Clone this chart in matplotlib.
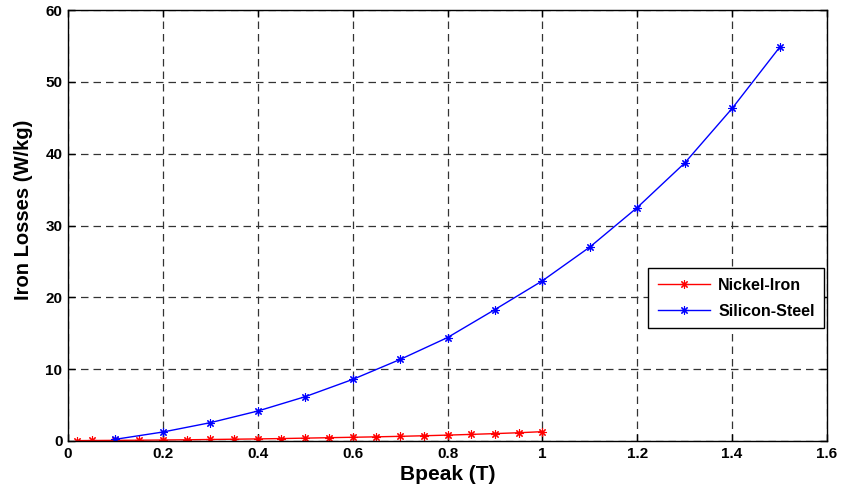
import matplotlib
matplotlib.use("Agg")
import matplotlib.pyplot as plt

plt.rcParams['font.family'] = ['Liberation Sans', 'DejaVu Sans']
plt.rcParams['font.weight'] = 'bold'

# Nickel-Iron losses, measured every 0.05 T
b_ni = [0.02, 0.05, 0.10, 0.15, 0.20, 0.25, 0.30, 0.35, 0.40, 0.45, 0.50,
        0.55, 0.60, 0.65, 0.70, 0.75, 0.80, 0.85, 0.90, 0.95, 1.00]
p_ni = [0.05, 0.07, 0.09, 0.11, 0.14, 0.17, 0.21, 0.25, 0.29, 0.34, 0.40,
        0.46, 0.52, 0.58, 0.65, 0.73, 0.82, 0.92, 1.03, 1.15, 1.30]

# Silicon-Steel losses, measured every 0.1 T
b_si = [0.1, 0.2, 0.3, 0.4, 0.5, 0.6, 0.7, 0.8, 0.9, 1.0, 1.1, 1.2, 1.3, 1.4, 1.5]
p_si = [0.24, 1.25, 2.55, 4.17, 6.17, 8.57, 11.35, 14.4, 18.3, 22.3,
        27.0, 32.5, 38.7, 46.3, 54.8]

xticks = [0, 0.2, 0.4, 0.6, 0.8, 1, 1.2, 1.4, 1.6]
xtick_labels = ['0', '0.2', '0.4', '0.6', '0.8', '1', '1.2', '1.4', '1.6']
yticks = [0, 10, 20, 30, 40, 50, 60]

asterisk = (8, 2, 0)

fig = plt.figure(figsize=(8.42, 4.96), dpi=100)
ax = fig.add_axes([68 / 842, 1 - 441 / 496, (827 - 68) / 842, (441 - 10) / 496])

ax.plot(b_ni, p_ni, color='red', lw=1, marker=asterisk, ms=6, mew=0.8,
        label='Nickel-Iron')
ax.plot(b_si, p_si, color='blue', lw=1, marker=asterisk, ms=6, mew=0.8,
        label='Silicon-Steel')

ax.set_xlim(0, 1.6)
ax.set_ylim(0, 60)
ax.set_xticks(xticks)
ax.set_xticklabels(xtick_labels, fontsize=11, fontweight='bold')
ax.set_yticks(yticks)
ax.set_yticklabels([str(v) for v in yticks], fontsize=11, fontweight='bold')
ax.tick_params(direction='in', top=True, right=True, length=5, width=1, pad=4)

ax.grid(True, color='#333333', linestyle=(0, (6, 4)), linewidth=0.9)
ax.set_axisbelow(True)
for s in ax.spines.values():
    s.set_linewidth(1)
    s.set_color('black')

ax.set_xlabel('Bpeak (T)', fontsize=15, fontweight='bold', labelpad=3)
ax.set_ylabel('Iron Losses (W/kg)', fontsize=14.5, fontweight='bold')
ax.yaxis.set_label_coords(-0.046, 0.536)

leg = ax.legend(loc='upper left', bbox_to_anchor=((648 - 68) / 759, (441 - 268) / 431),
                fancybox=False, edgecolor='black', framealpha=1,
                prop={'weight': 'bold', 'size': 11.5}, handlelength=3.3,
                handletextpad=0.5, borderpad=0.6, labelspacing=0.7,
                borderaxespad=0)
leg.get_frame().set_linewidth(1)

fig.savefig('out.png', dpi=100)
